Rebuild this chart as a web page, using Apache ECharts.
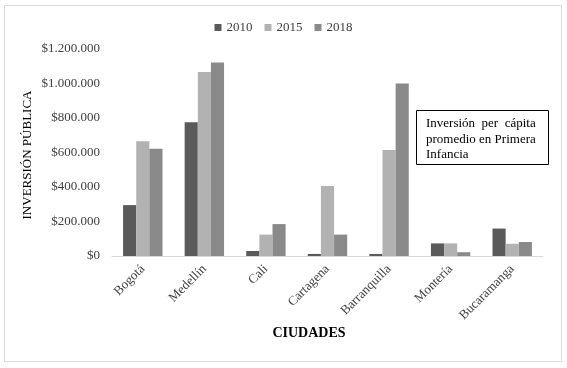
<!DOCTYPE html>
<html>
<head>
<meta charset="utf-8">
<script src="https://cdn.jsdelivr.net/npm/echarts@6/dist/echarts.min.js"></script>
<style>
html,body{margin:0;padding:0;background:#fff;}
#chart{width:567px;height:368px;}
</style>
</head>
<body>
<div id="chart"></div>
<script>
const categories = ['Bogotá','Medellín','Cali','Cartagena','Barranquilla','Montería','Bucaramanga'];
const series2010 = [295000, 775000, 29000, 12000, 12000, 73000, 159000];
const series2015 = [665000, 1067000, 124000, 406000, 614000, 73000, 71000];
const series2018 = [622000, 1122000, 185000, 124000, 1000000, 22000, 81000];
const seriesNames = ['2010','2015','2018'];
const yTicks = [0, 200000, 400000, 600000, 800000, 1000000, 1200000];

const font = 'Liberation Serif, Times New Roman, serif';
const colors = ['#5a5a5a','#b2b2b2','#8a8a8a'];

function fmt(v){
  return '$' + String(v).replace(/\B(?=(\d{3})+(?!\d))/g, '.');
}

const chart = echarts.init(document.getElementById('chart'));
chart.setOption({
  animation:false,
  backgroundColor:'#fff',
  color: colors,
  legend:{
    top:16, left:'center',
    itemWidth:7, itemHeight:7, itemGap:12,
    icon:'rect',
    textStyle:{fontFamily:font, fontSize:13, color:'#404040'},
    data: seriesNames
  },
  grid:{left:112, right:24, top:49, bottom:112, containLabel:false},
  xAxis:{
    type:'category',
    data:categories,
    axisLine:{lineStyle:{color:'#d9d9d9', width:1}},
    axisTick:{show:false},
    axisLabel:{rotate:45, fontFamily:font, fontSize:13, color:'#404040', margin:11, interval:0}
  },
  yAxis:{
    type:'value',
    min:0, max:yTicks[yTicks.length-1], interval:yTicks[1]-yTicks[0],
    splitLine:{show:false},
    axisLine:{show:false},
    axisTick:{show:false},
    axisLabel:{formatter:fmt, fontFamily:font, fontSize:13, color:'#404040', margin:12}
  },
  series:[
    {name:seriesNames[0], type:'bar', data:series2010, barGap:'0%', barCategoryGap:'36%'},
    {name:seriesNames[1], type:'bar', data:series2015, barGap:'0%', barCategoryGap:'36%'},
    {name:seriesNames[2], type:'bar', data:series2018, barGap:'0%', barCategoryGap:'36%'}
  ],
  graphic:[
    {type:'rect', shape:{x:4.5,y:5.5,width:557,height:356}, style:{fill:'none', stroke:'#d9d9d9', lineWidth:1}, silent:true, z:-1},
    {type:'text', x:309, y:333, style:{text:'CIUDADES', fontFamily:font, fontSize:14, fontWeight:'bold', fill:'#000', align:'center', verticalAlign:'middle'}},
    {type:'text', x:28, y:155, rotation:Math.PI/2, style:{text:'INVERSIÓN PÚBLICA', fontFamily:font, fontSize:13, fill:'#000', align:'center', verticalAlign:'middle'}},
    {type:'rect', shape:{x:416.5,y:110.5,width:132,height:54}, style:{fill:'#fff', stroke:'#000', lineWidth:1}, z:10},
    {type:'text', x:426, y:116, z:11, style:{text:'Inversión  per  cápita\npromedio en Primera\nInfancia', fontFamily:font, fontSize:13, lineHeight:15.5, fill:'#000', align:'left', verticalAlign:'top'}}
  ]
});
</script>
</body>
</html>
